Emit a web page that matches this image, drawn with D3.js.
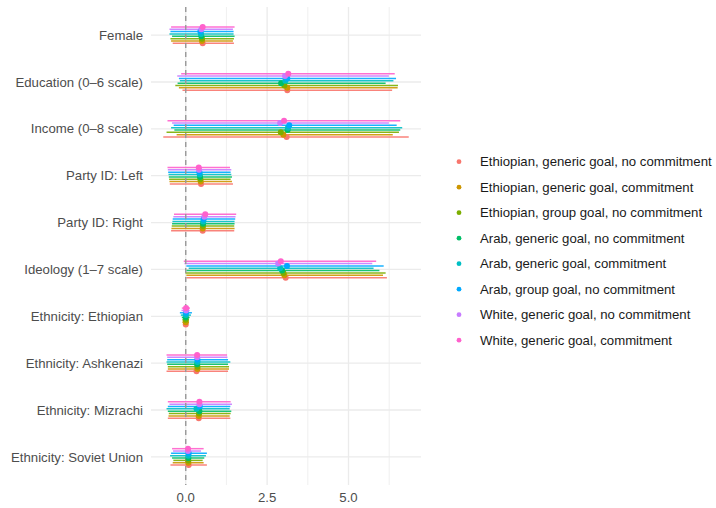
<!DOCTYPE html>
<html>
<head>
<meta charset="utf-8">
<script src="https://cdn.jsdelivr.net/npm/d3@7"></script>
<style>
  body { margin: 0; background: #fff; }
  svg { font-family: "Liberation Sans", Arial, sans-serif; }
</style>
</head>
<body>
<svg id="chart" width="716" height="508"></svg>
<script>
// ---------- data ----------
const variables = ["Female", "Education (0\u20136 scale)", "Income (0\u20138 scale)", "Party ID: Left",
  "Party ID: Right", "Ideology (1\u20137 scale)", "Ethnicity: Ethiopian", "Ethnicity: Ashkenazi",
  "Ethnicity: Mizrachi", "Ethnicity: Soviet Union"];

const groups = ["Ethiopian, generic goal, no commitment", "Ethiopian, generic goal, commitment",
  "Ethiopian, group goal, no commitment", "Arab, generic goal, no commitment",
  "Arab, generic goal, commitment", "Arab, group goal, no commitment",
  "White, generic goal, no commitment", "White, generic goal, commitment"];

const groupColors = ["#F8766D", "#CD9600", "#7CAE00", "#00BE67", "#00BFC4", "#00A9FF", "#C77CFF", "#FF61CC"];

// estimates: rows = variables, columns = groups (order above)
const estimates = [
  [0.52, 0.50, 0.50, 0.48, 0.47, 0.45, 0.48, 0.52],
  [3.12, 3.12, 3.03, 2.93, 3.06, 3.12, 3.05, 3.15],
  [3.10, 3.00, 2.92, 3.13, 3.14, 3.18, 2.90, 3.02],
  [0.47, 0.46, 0.45, 0.44, 0.43, 0.42, 0.41, 0.40],
  [0.52, 0.52, 0.53, 0.53, 0.54, 0.55, 0.57, 0.60],
  [3.07, 3.03, 3.00, 2.96, 2.90, 3.11, 2.84, 2.92],
  [0.00, 0.00, 0.00, 0.00, 0.00, 0.01, 0.01, 0.01],
  [0.33, 0.36, 0.36, 0.35, 0.36, 0.36, 0.35, 0.35],
  [0.40, 0.40, 0.41, 0.42, 0.33, 0.43, 0.42, 0.42],
  [0.09, 0.08, 0.08, 0.08, 0.08, 0.09, 0.07, 0.07]
];
const lower = [
  [-0.40, -0.45, -0.47, -0.42, -0.50, -0.47, -0.50, -0.45],
  [-0.10, -0.21, -0.32, -0.25, -0.18, -0.21, -0.26, -0.14],
  [-0.69, -0.28, -0.59, -0.35, -0.45, -0.37, -0.42, -0.56],
  [-0.49, -0.50, -0.51, -0.52, -0.53, -0.54, -0.55, -0.56],
  [-0.45, -0.44, -0.43, -0.42, -0.41, -0.40, -0.38, -0.36],
  [0.02, 0.02, -0.01, 0.02, 0.09, 0.02, -0.04, -0.06],
  [-0.07, -0.10, -0.10, -0.12, -0.15, -0.18, -0.13, -0.12],
  [-0.59, -0.55, -0.55, -0.57, -0.59, -0.57, -0.57, -0.59],
  [-0.55, -0.53, -0.52, -0.55, -0.59, -0.55, -0.50, -0.55],
  [-0.47, -0.40, -0.38, -0.42, -0.48, -0.45, -0.39, -0.42]
];
const upper = [
  [1.48, 1.45, 1.48, 1.50, 1.47, 1.47, 1.45, 1.50],
  [6.34, 6.51, 6.52, 6.14, 6.38, 6.46, 6.24, 6.42],
  [6.85, 6.36, 6.55, 6.59, 6.65, 6.48, 6.24, 6.59],
  [1.45, 1.42, 1.38, 1.42, 1.40, 1.38, 1.40, 1.36],
  [1.49, 1.50, 1.49, 1.50, 1.50, 1.52, 1.53, 1.55],
  [6.18, 6.06, 6.14, 5.95, 5.77, 6.08, 5.73, 5.85],
  [0.07, 0.10, 0.10, 0.12, 0.16, 0.19, 0.12, 0.13],
  [1.30, 1.33, 1.33, 1.30, 1.37, 1.30, 1.28, 1.27],
  [1.37, 1.35, 1.38, 1.40, 1.35, 1.37, 1.42, 1.38],
  [0.65, 0.55, 0.52, 0.57, 0.62, 0.65, 0.47, 0.55]
];

const xTicks = [0, 2.5, 5];
const xMinorTicks = [1.25, 3.75, 6.25];

// ---------- layout ----------
const svg = d3.select("#chart");
const panel = { left: 151, right: 421, top: 7, bottom: 485 };

const allVals = lower.flat().concat(upper.flat());
const lo = d3.min(allVals), hi = d3.max(allVals);
const pad = (hi - lo) * 0.05;
const x = d3.scaleLinear().domain([lo - pad, hi + pad]).range([panel.left, panel.right]);
const y = d3.scalePoint().domain(variables).range([panel.top, panel.bottom]).padding(0.6);
const dodgeWidth = 0.4;
const spacing = y.step() * dodgeWidth / groups.length;
const offset = i => (groups.length - 1) / 2 * spacing - i * spacing;

// ---------- grid ----------
const grid = svg.append("g");
grid.selectAll("line.minor").data(xMinorTicks.filter(t => t > x.domain()[0] && t < x.domain()[1]))
  .join("line").attr("class", "minor")
  .attr("x1", d => x(d)).attr("x2", d => x(d))
  .attr("y1", panel.top).attr("y2", panel.bottom)
  .attr("stroke", "#ebebeb").attr("stroke-width", 0.8);
grid.selectAll("line.major").data(xTicks)
  .join("line").attr("class", "major")
  .attr("x1", d => x(d)).attr("x2", d => x(d))
  .attr("y1", panel.top).attr("y2", panel.bottom)
  .attr("stroke", "#ebebeb").attr("stroke-width", 1.3);
grid.selectAll("line.hmajor").data(variables)
  .join("line").attr("class", "hmajor")
  .attr("x1", panel.left).attr("x2", panel.right)
  .attr("y1", d => y(d)).attr("y2", d => y(d))
  .attr("stroke", "#ebebeb").attr("stroke-width", 1.3);

// ---------- records ----------
const recs = [];
variables.forEach((v, vi) => {
  groups.forEach((g, gi) => {
    recs.push({ v, gi, est: estimates[vi][gi], lo: lower[vi][gi], hi: upper[vi][gi] });
  });
});

// intervals
svg.append("g").selectAll("line").data(recs).join("line")
  .attr("x1", d => x(d.lo)).attr("x2", d => x(d.hi))
  .attr("y1", d => y(d.v) + offset(d.gi)).attr("y2", d => y(d.v) + offset(d.gi))
  .attr("stroke", d => groupColors[d.gi]).attr("stroke-width", 1.5).attr("stroke-opacity", 0.9);

// zero line
svg.append("line")
  .attr("x1", x(0)).attr("x2", x(0)).attr("y1", panel.top).attr("y2", panel.bottom)
  .attr("stroke", "#999999").attr("stroke-width", 1.4).attr("stroke-dasharray", "5,4");

// points
svg.append("g").selectAll("circle").data(recs).join("circle")
  .attr("cx", d => x(d.est)).attr("cy", d => y(d.v) + offset(d.gi))
  .attr("r", 3).attr("fill", d => groupColors[d.gi]);

// ---------- axes text ----------
svg.append("g").selectAll("text").data(variables).join("text")
  .attr("x", panel.left - 8).attr("y", d => y(d)).attr("dy", "0.35em")
  .attr("text-anchor", "end").attr("font-size", 13.2).attr("fill", "#4d4d4d")
  .text(d => d);

svg.append("g").selectAll("text").data(xTicks).join("text")
  .attr("x", d => x(d)).attr("y", panel.bottom + 12).attr("dy", "0.35em")
  .attr("text-anchor", "middle").attr("font-size", 13.2).attr("fill", "#4d4d4d")
  .text(d => d3.format(".1f")(d));

// ---------- legend ----------
const legend = svg.append("g");
const legY0 = 161.7, legStep = 25.5;
groups.forEach((g, i) => {
  legend.append("circle").attr("cx", 459).attr("cy", legY0 + i * legStep)
    .attr("r", 2.4).attr("fill", groupColors[i]);
  legend.append("text").attr("x", 480).attr("y", legY0 + i * legStep).attr("dy", "0.35em")
    .attr("font-size", 13.2).attr("fill", "#1a1a1a").text(g);
});
</script>
</body>
</html>
